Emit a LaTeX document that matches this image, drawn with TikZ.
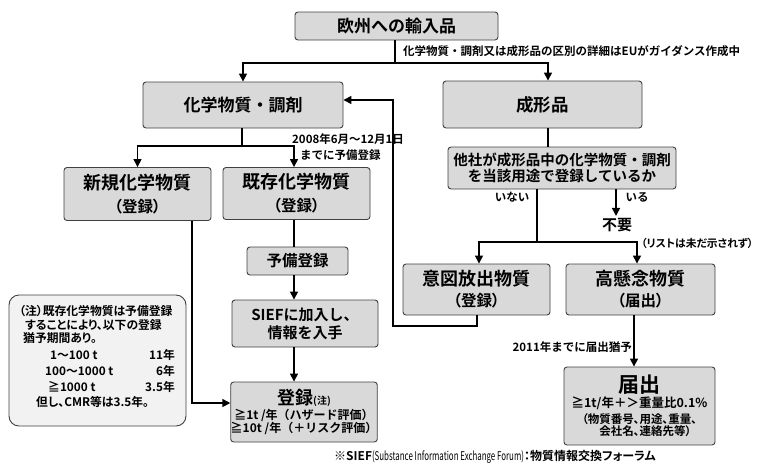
\documentclass[tikz,border=0pt]{standalone}
\usepackage{fontspec}
\usepackage{graphicx}
\setmainfont{Noto Sans CJK JP}[BoldFont={Noto Sans CJK JP Bold}]
\newfontfamily\jpp{Noto Sans CJK JP}[BoldFont={Noto Sans CJK JP Bold}, RawFeature=+palt]
\usetikzlibrary{arrows.meta,calc}
\definecolor{boxgray}{HTML}{D9D9D9}
\definecolor{notegray}{HTML}{F2F2F2}
\definecolor{edgegray}{HTML}{404040}
\newcommand{\jsz}[2]{\fontsize{#1}{#2}\selectfont}
\begin{document}
\begin{tikzpicture}[x=1pt,y=-1pt,
  box/.style={draw=edgegray, fill=boxgray, rounded corners=3pt, line width=0.9pt, align=center, inner sep=0pt},
  conn/.style={line width=1.5pt, black},
  arr/.style={conn, -{Triangle[length=8pt,width=8pt]}},
  lbl/.style={inner sep=0pt, font=\bfseries\jsz{11.5}{13}},
  notetxt/.style={inner sep=0pt, font=\jpp\bfseries\jsz{11.8}{13}}]
\useasboundingbox (0,0) rectangle (759,472);
% boxes
\node[box, minimum width=203pt, minimum height=28pt, font=\bfseries\jsz{17}{20}] (top) at (396.5,26) {欧州への輸入品};
\node[box, minimum width=200pt, minimum height=46pt, font=\bfseries\jsz{17}{20}] (chem) at (243,105) {化学物質・調剤};
\node[box, minimum width=199pt, minimum height=47pt, font=\bfseries\jsz{17.5}{20}] (art) at (542.5,104.5) {成形品};
\node[box, minimum width=228pt, minimum height=42pt, font=\bfseries\jsz{14.5}{16.5}] (q) at (562,168) {他社が成形品中の化学物質・調剤\\を当該用途で登録しているか};
\node[box, minimum width=147pt, minimum height=53pt, font=\bfseries\jsz{15.5}{23}] (new) at (137.5,194) {{\jsz{18}{23}新規化学物質}\\{\jpp（登録）}};
\node[box, minimum width=147pt, minimum height=52pt, font=\bfseries\jsz{15.5}{23}] (exist) at (296.5,193.5) {{\jsz{18}{23}既存化学物質}\\{\jpp（登録）}};
\node[box, minimum width=101pt, minimum height=28pt, font=\bfseries\jsz{15.5}{18}] (yobi) at (297.5,261) {予備登録};
\node[box, minimum width=146pt, minimum height=47pt, font=\bfseries\jsz{15}{18}] (sief) at (305,323.5) {SIEFに加入し、\\情報を入手};
\node[box, minimum width=144pt, minimum height=60pt, font=\bfseries\jsz{12}{13}] (reg) at (304,412) {{\jsz{18}{20}登録}{\jpp\jsz{10}{12}(注)}\\[2pt]≧1t /年（ハザード評価）\\≧10t /年（＋リスク評価）};
\node[box, minimum width=147pt, minimum height=51pt, font=\bfseries\jsz{15.5}{21}] (intent) at (476.5,289.5) {{\jsz{18}{21}意図放出物質}\\{\jpp（登録）}};
\node[box, minimum width=149pt, minimum height=51pt, font=\bfseries\jsz{15.5}{21}] (svhc) at (640.5,289.5) {{\jsz{18}{21}高懸念物質}\\{\jpp（届出）}};
\node[box, minimum width=151pt, minimum height=78pt, font=\bfseries\jsz{11.5}{12.5}] (notif) at (639.5,406) {{\jsz{21}{22}届出}\\[1pt]{\jsz{12.5}{13}≧1t/年＋＞重量比0.1\%}\\[3pt]{\jpp（物質番号、用途、重量、}\\{\jpp\hspace{1em}会社名、連絡先等）}};
% note box
\node[draw=edgegray, fill=notegray, rounded corners=10pt, line width=0.9pt, minimum width=177pt, minimum height=131pt, inner sep=0pt] (note) at (97.5,360.5) {};
\node[notetxt, anchor=west] (n1) at (19,311) {（注）既存化学物質は予備登録};
\node[notetxt, anchor=west] (n2) at (25,325) {することにより、以下の登録};
\node[notetxt, anchor=west] (n3) at (23,338) {猶予期間あり。};
\node[notetxt, anchor=west] (t1a) at (50,355) {1～100 t};
\node[notetxt, anchor=east] (t1b) at (175,355) {11年};
\node[notetxt, anchor=west] (t2a) at (45,371) {100～1000 t};
\node[notetxt, anchor=east] (t2b) at (175,371) {6年};
\node[notetxt, anchor=west] (t3a) at (48,387) {≧1000 t};
\node[notetxt, anchor=east] (t3b) at (175,387) {3.5年};
\node[notetxt, anchor=west] (n4) at (36,402) {但し、CMR等は3.5年。};
% labels
\node[lbl, anchor=west] (guide) at (403,51) {化学物質・調剤又は成形品の区別の詳細はEUがガイダンス作成中};
\node[lbl, anchor=west] (date1) at (292,139) {2008年6月～12月1日};
\node[lbl, anchor=west] (date2) at (300,155) {までに予備登録};
\node[lbl] (inai) at (512,197) {いない};
\node[lbl] (iru) at (637,197) {いる};
\node[inner sep=2pt, font=\bfseries\jsz{15}{17}] (fuyo) at (617,225) {不要};
\node[lbl, anchor=west, font=\jpp\bfseries\jsz{10.8}{12}] (list) at (641,243) {（リストは未だ示されず）};
\node[lbl, anchor=east] (y2011) at (632,347) {2011年までに届出猶予};
\node[inner sep=0pt, font=\jsz{12}{14}] (foot) at (495,457) {\textbf{※SIEF}\resizebox{152pt}{\height}{(Substance Information Exchange Forum)}{\jpp\bfseries：物質情報交換フォーラム}};
% helper coordinates
\coordinate (j1) at (395,63);
\coordinate (a1) at (548,63);
\coordinate (j2) at (242,146);
\coordinate (colE) at (294,0);
\coordinate (colN) at (192,0);
\coordinate (rowR) at (0,403);
\coordinate (j3) at (537,242);
\coordinate (colI) at (479,0);
\coordinate (colS2) at (637,0);
\coordinate (colF) at (616,0);
\coordinate (colB) at (477,0);
\coordinate (k1) at (393,326);
\coordinate (rowC) at (0,100);
\coordinate (colS) at (634,0);
% connectors
\draw[conn] (top.south -| j1) -- (j1);
\draw[arr] (j1) -| (chem.north);
\draw[arr] (j1) -- (a1) -- (art.north -| a1);
\draw[conn] (chem.south -| j2) -- (j2);
\draw[arr] (j2) -| (new.north);
\draw[arr] (j2) -| (exist.north -| colE);
\draw[conn] (exist.south -| colE) -- (yobi.north -| colE);
\draw[arr] (yobi.south -| colE) -- (sief.north -| colE);
\draw[arr] (sief.south -| colE) -- (reg.north -| colE);
\draw[arr] (new.south -| colN) |- (reg.west |- rowR);
\draw[conn] (art.south -| a1) -- (q.north -| a1);
\draw[conn] (q.south -| j3) -- (j3);
\draw[arr] (j3) -| (intent.north -| colI);
\draw[arr] (j3) -| (svhc.north -| colS2);
\draw[arr] (q.south -| colF) -- (fuyo.north -| colF);
\draw[arr] (intent.south -| colB) |- (k1) |- (chem.east |- rowC);
\draw[arr] (svhc.south -| colS) -- (notif.north -| colS);
\end{tikzpicture}
\end{document}
